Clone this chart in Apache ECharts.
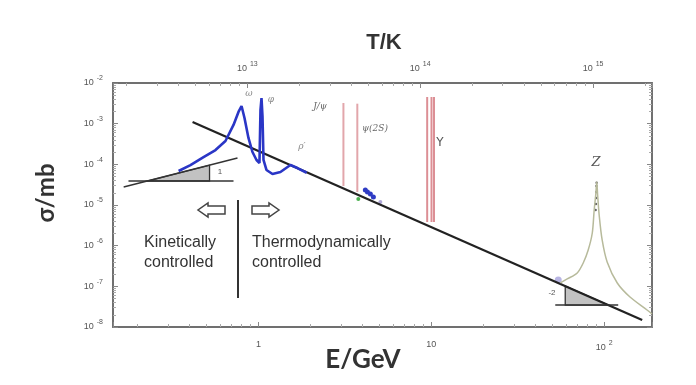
<!DOCTYPE html>
<html>
<head>
<meta charset="utf-8">
<script src="https://cdn.jsdelivr.net/npm/echarts@6/dist/echarts.min.js"></script>
<style>
  html, body { margin: 0; background: #fff; }
  #chart { width: 696px; height: 385px; }
</style>
</head>
<body>
<div id="chart"></div>
<script>
// E in GeV (bottom axis), sigma in mb (left axis), T in K (top axis)
const eRange = [0.144, 189];
const sigmaRange = [1e-8, 1e-2];
const kelvinPerGeV = 1.1605e13;

// 1/E^2 scaling line
const scalingLine = [[0.4155, 1.1e-3], [165.8, 1.49e-8]];

// e+e- -> hadrons, low energy region (rho/omega, phi, rho')
const hadronCurve = [
  [0.345, 6.85e-5], [0.404, 9.6e-5], [0.481, 1.51e-4], [0.564, 2.25e-4],
  [0.644, 3.75e-4], [0.717, 9.3e-4], [0.766, 1.94e-3], [0.798, 2.72e-3],
  [0.83, 1.38e-3], [0.875, 4.45e-4], [0.923, 2.01e-4], [0.974, 1.28e-4],
  [1.013, 1.08e-4], [1.027, 2.2e-3], [1.041, 4.27e-3], [1.055, 1.5e-3],
  [1.069, 1.28e-4], [1.112, 7.26e-5], [1.205, 5.79e-5], [1.34, 6.48e-5],
  [1.53, 9.64e-5], [1.68, 8.1e-5], [1.9, 6.2e-5]
];
const hadronDots = [[4.15, 2.34e-5], [4.27, 2.09e-5], [4.44, 1.87e-5], [4.62, 1.57e-5]];
const greenDots = [[3.78, 1.41e-5]];
const paleDots = [[5.07, 1.19e-5]];

// narrow resonances (vertical bars)
const jpsiLine = [[3.10, 3.22e-3], [3.10, 2.93e-5]];
const psi2sLine = [[3.73, 3.1e-3], [3.73, 2.09e-5]];
const upsilonMasses = [9.46, 10.02, 10.36];
const upsilonSpan = [4.53e-3, 3.82e-6];

// Z resonance
const zCurve = [
  [55.7, 1.21e-7], [61.1, 1.52e-7], [69.8, 2.13e-7], [75.6, 3.75e-7],
  [80.8, 7.83e-7], [85.3, 2.05e-6], [87.5, 7.54e-6], [89.3, 1.76e-5],
  [90.6, 3.68e-5], [91.6, 1.76e-5], [93.5, 5.68e-6], [97.3, 1.38e-6],
  [104, 3.97e-7], [119, 1.21e-7], [141, 5.47e-8], [177, 2.62e-8], [189, 2.09e-8]
];
const zPoints = [[90.4, 3.5e-5], [90.2, 2.93e-5], [90.0, 2.09e-5], [89.8, 1.49e-5], [89.6, 1.06e-5], [89.2, 7.5e-6]];
const zBaseDots = [[54.2, 1.43e-7]];

// slope guides
const slopeOneLine = [[0.166, 2.77e-5], [0.756, 1.43e-4]];
const slopeOneBase = [[0.177, 3.89e-5], [0.717, 3.89e-5]];
const slopeOneTri = [[0.227, 3.89e-5], [0.521, 3.89e-5], [0.521, 9.5e-5]];
const slopeTwoBase = [[52.1, 3.47e-8], [120.5, 3.47e-8]];
const slopeTwoTri = [[59.5, 1.02e-7], [59.5, 3.47e-8], [105.7, 3.47e-8]];
const triangles = [slopeOneTri, slopeTwoTri];

const chart = echarts.init(document.getElementById('chart'), null, { renderer: 'canvas' });

const frameColor = '#707070';
const labelColor = '#555';

function powLabel(v) {
  const p = Math.round(Math.log10(v));
  if (p === 0) return '1';
  if (p === 1) return '10';
  return '10{sup|' + p + '}';
}

const richLabel = {
  sup: { fontSize: 7, color: labelColor, padding: [0, 0, 9, 3] }
};

function frameAxis(extra) {
  return Object.assign({
    type: 'log',
    logBase: 10,
    splitLine: { show: false },
    axisLine: { show: true, lineStyle: { color: frameColor, width: 2 } },
    axisTick: { show: true, inside: true, length: 5, lineStyle: { color: '#888' } },
    minorTick: { show: true, splitNumber: 9, length: 3, lineStyle: { color: '#aaa' } },
    axisLabel: {
      show: true, color: labelColor, fontSize: 9, fontFamily: 'Liberation Sans',
      showMinLabel: false, showMaxLabel: false,
      formatter: powLabel, rich: richLabel
    }
  }, extra);
}

function line(data, color, width, extra) {
  return Object.assign({
    type: 'line', data: data, symbol: 'none', silent: true,
    lineStyle: { color: color, width: width }
  }, extra);
}

function dots(data, color, size, opacity) {
  return {
    type: 'scatter', data: data, symbolSize: size, silent: true,
    itemStyle: { color: color, opacity: opacity == null ? 1 : opacity }
  };
}

const series = [
  line(scalingLine, '#222', 2.2),
  line(slopeOneLine, '#333', 1.4),
  line(slopeOneBase, '#333', 1.4),
  line(slopeTwoBase, '#333', 1.4),
  {
    type: 'custom',
    silent: true,
    data: triangles.map((t, i) => [t[0][0], t[0][1], i]),
    renderItem: function (params, api) {
      const tri = triangles[api.value(2)];
      const pts = tri.map(p => api.coord(p));
      return {
        type: 'polygon',
        shape: { points: pts },
        style: { fill: '#c2c2c2', stroke: '#333', lineWidth: 1.3 }
      };
    }
  },
  line(jpsiLine, '#e2a6ab', 2),
  line(psi2sLine, '#e2a6ab', 2)
];
upsilonMasses.forEach(m => {
  series.push(line([[m, upsilonSpan[0]], [m, upsilonSpan[1]]], '#dc8f95', 2));
});
series.push(
  line(zCurve, '#b7ba9b', 1.5, { smooth: 0.3 }),
  dots(zPoints, '#666', 2.5),
  dots(zBaseDots, '#8884d0', 7, 0.6),
  line(hadronCurve, '#2a36c6', 2.6),
  dots(hadronDots, '#2f3cc4', 5),
  dots(greenDots, '#4cb050', 4),
  dots(paleDots, '#b0a8d8', 4)
);

const textFont = '16px "Liberation Sans", Arial, sans-serif';
const tagFont = 'italic 9px "DejaVu Serif", serif';

function txt(x, y, s, font, color, align, rotation) {
  return {
    type: 'text', x: x, y: y, rotation: rotation || 0, silent: true,
    style: {
      text: s, font: font, fill: color || '#333',
      align: align || 'left', verticalAlign: 'middle',
      textAlign: align || 'left', textVerticalAlign: 'middle'
    }
  };
}

function arrow(x0, x1, y) {
  // hollow block arrow from x0 (tail) to x1 (tip)
  const d = x1 > x0 ? 1 : -1;
  const head = x1 - d * 10;
  return {
    type: 'polygon', silent: true,
    shape: { points: [
      [x0, y - 4], [head, y - 4], [head, y - 7], [x1, y],
      [head, y + 7], [head, y + 4], [x0, y + 4]
    ] },
    style: { fill: '#fff', stroke: '#444', lineWidth: 1.5 }
  };
}

const graphic = [
  txt(384, 43, 'T/K', 'bold 22px "Liberation Sans", Arial, sans-serif', '#333', 'center'),
  txt(363, 360, 'E/GeV', 'bold 26px Lato, "Open Sans", sans-serif', '#333', 'center'),
  txt(46, 193, 'σ/mb', 'bold 24px Lato, "Open Sans", sans-serif', '#333', 'center', Math.PI / 2),
  txt(144, 243, 'Kinetically', textFont, '#333'),
  txt(144, 263, 'controlled', textFont, '#333'),
  txt(252, 243, 'Thermodynamically', textFont, '#333'),
  txt(252, 263, 'controlled', textFont, '#333'),
  {
    type: 'line', silent: true,
    shape: { x1: 238, y1: 200, x2: 238, y2: 298 },
    style: { stroke: '#333', lineWidth: 2 }
  },
  arrow(225, 198, 210),
  arrow(252, 279, 210),
  txt(249, 94, 'ω', tagFont, '#888', 'center'),
  txt(271, 100, 'φ', tagFont, '#888', 'center'),
  txt(302, 147, 'ρ′', tagFont, '#888', 'center'),
  txt(320, 107, 'J/ψ', tagFont, '#666', 'center'),
  txt(375, 129, 'ψ(2S)', tagFont, '#666', 'center'),
  txt(440, 143, 'Υ', '12px "DejaVu Sans", sans-serif', '#555', 'center'),
  txt(596, 163, 'Z', 'italic 13px "DejaVu Serif", serif', '#555', 'center'),
  txt(220, 172, '1', '8px "Liberation Sans", sans-serif', '#555', 'center'),
  txt(552, 293, '-2', '8px "Liberation Sans", sans-serif', '#555', 'center')
];

chart.setOption({
  animation: false,
  backgroundColor: '#fff',
  grid: { left: 113, right: 44, top: 83, bottom: 58, containLabel: false },
  xAxis: [
    frameAxis({ position: 'bottom', min: eRange[0], max: eRange[1],
      axisLabel: Object.assign({}, frameAxis({}).axisLabel, { margin: 13 }) }),
    frameAxis({ position: 'top', min: eRange[0] * kelvinPerGeV, max: eRange[1] * kelvinPerGeV,
      axisLabel: Object.assign({}, frameAxis({}).axisLabel, { margin: 6 }) })
  ],
  yAxis: [
    frameAxis({ position: 'left', min: sigmaRange[0], max: sigmaRange[1],
      axisLabel: Object.assign({}, frameAxis({}).axisLabel, { margin: 10, showMinLabel: true, showMaxLabel: true }) }),
    frameAxis({ position: 'right', min: sigmaRange[0], max: sigmaRange[1],
      axisLabel: { show: false } })
  ],
  series: series,
  graphic: graphic
});
</script>
</body>
</html>
